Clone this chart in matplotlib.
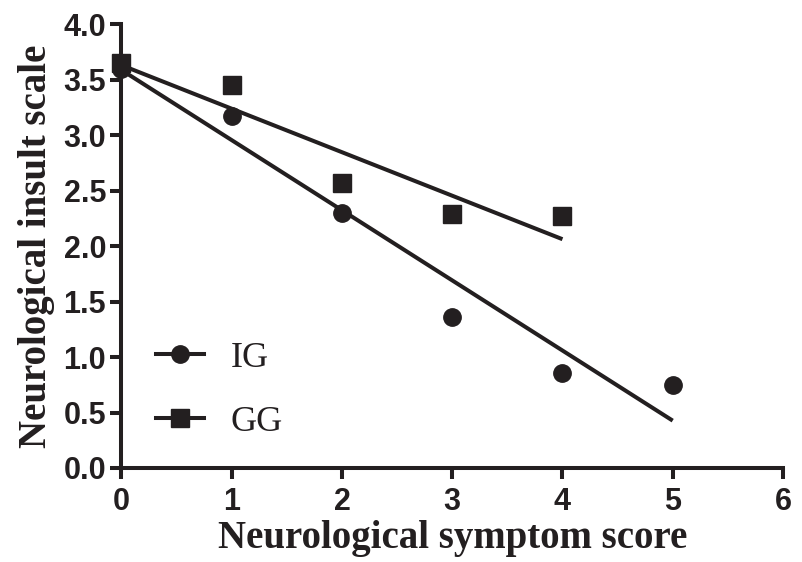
import numpy as np
import matplotlib
matplotlib.use("Agg")
import matplotlib.pyplot as plt
from matplotlib.lines import Line2D

# Data
x_ig = [0, 1, 2, 3, 4, 5]
y_ig = [3.60, 3.17, 2.30, 1.36, 0.86, 0.75]
x_gg = [0, 1, 2, 3, 4]
y_gg = [3.65, 3.45, 2.57, 2.29, 2.27]
xticks = [0, 1, 2, 3, 4, 5, 6]
yticks = [0.0, 0.5, 1.0, 1.5, 2.0, 2.5, 3.0, 3.5, 4.0]

C = "#231f20"
fig = plt.figure(figsize=(8.03, 5.62), dpi=100)
ax = fig.add_axes([0.1513, 0.1673, 0.975 - 0.1513, 0.957 - 0.1673])

def fit(x, y):
    s, b = np.polyfit(x, y, 1)
    xs = np.array([min(x), max(x)])
    return xs, s * xs + b

lw = 2.9
for x, y, m in [(x_ig, y_ig, "o"), (x_gg, y_gg, "s")]:
    xs, ys = fit(x, y)
    ax.plot(xs, ys, color=C, lw=lw, zorder=2, solid_capstyle="butt")
    ax.plot(x, y, linestyle="none", marker=m, ms=12.5,
            color=C, zorder=3, clip_on=False)

h1 = Line2D([], [], color=C, lw=lw, marker="o", ms=12.5)
h2 = Line2D([], [], color=C, lw=lw, marker="s", ms=12.5)
leg = ax.legend([h1, h2], ["IG", "GG"], loc="lower left",
                bbox_to_anchor=(0.0025, -0.007), frameon=False,
                prop={"family": "Liberation Serif", "size": 26},
                handlelength=1.33, handletextpad=0.75, labelspacing=0.84)
for t in leg.get_texts():
    t.set_color(C)

ax.set_xlim(0, 6)
ax.set_ylim(0, 4.0)
ax.set_xticks(xticks)
ax.set_yticks(yticks)
ax.set_xticklabels([str(v) for v in xticks])
ax.set_yticklabels([f"{v:.1f}" for v in yticks])
for lab in ax.get_xticklabels() + ax.get_yticklabels():
    lab.set_fontfamily("Liberation Sans")
    lab.set_fontweight("bold")
    lab.set_fontsize(22)
    lab.set_color(C)

for s in ["top", "right"]:
    ax.spines[s].set_visible(False)
for s in ["left", "bottom"]:
    ax.spines[s].set_linewidth(2.9)
    ax.spines[s].set_color(C)
ax.tick_params(direction="out", length=8, width=2.9, color=C)
ax.tick_params(axis="x", pad=6)
ax.tick_params(axis="y", pad=3)

ax.set_xlabel("Neurological symptom score", family="Liberation Serif",
              fontweight="bold", fontsize=28, color=C, labelpad=2)
ax.set_ylabel("Neurological insult scale", family="Liberation Serif",
              fontweight="bold", fontsize=28, color=C, labelpad=6)

fig.savefig("out.png", dpi=100)
